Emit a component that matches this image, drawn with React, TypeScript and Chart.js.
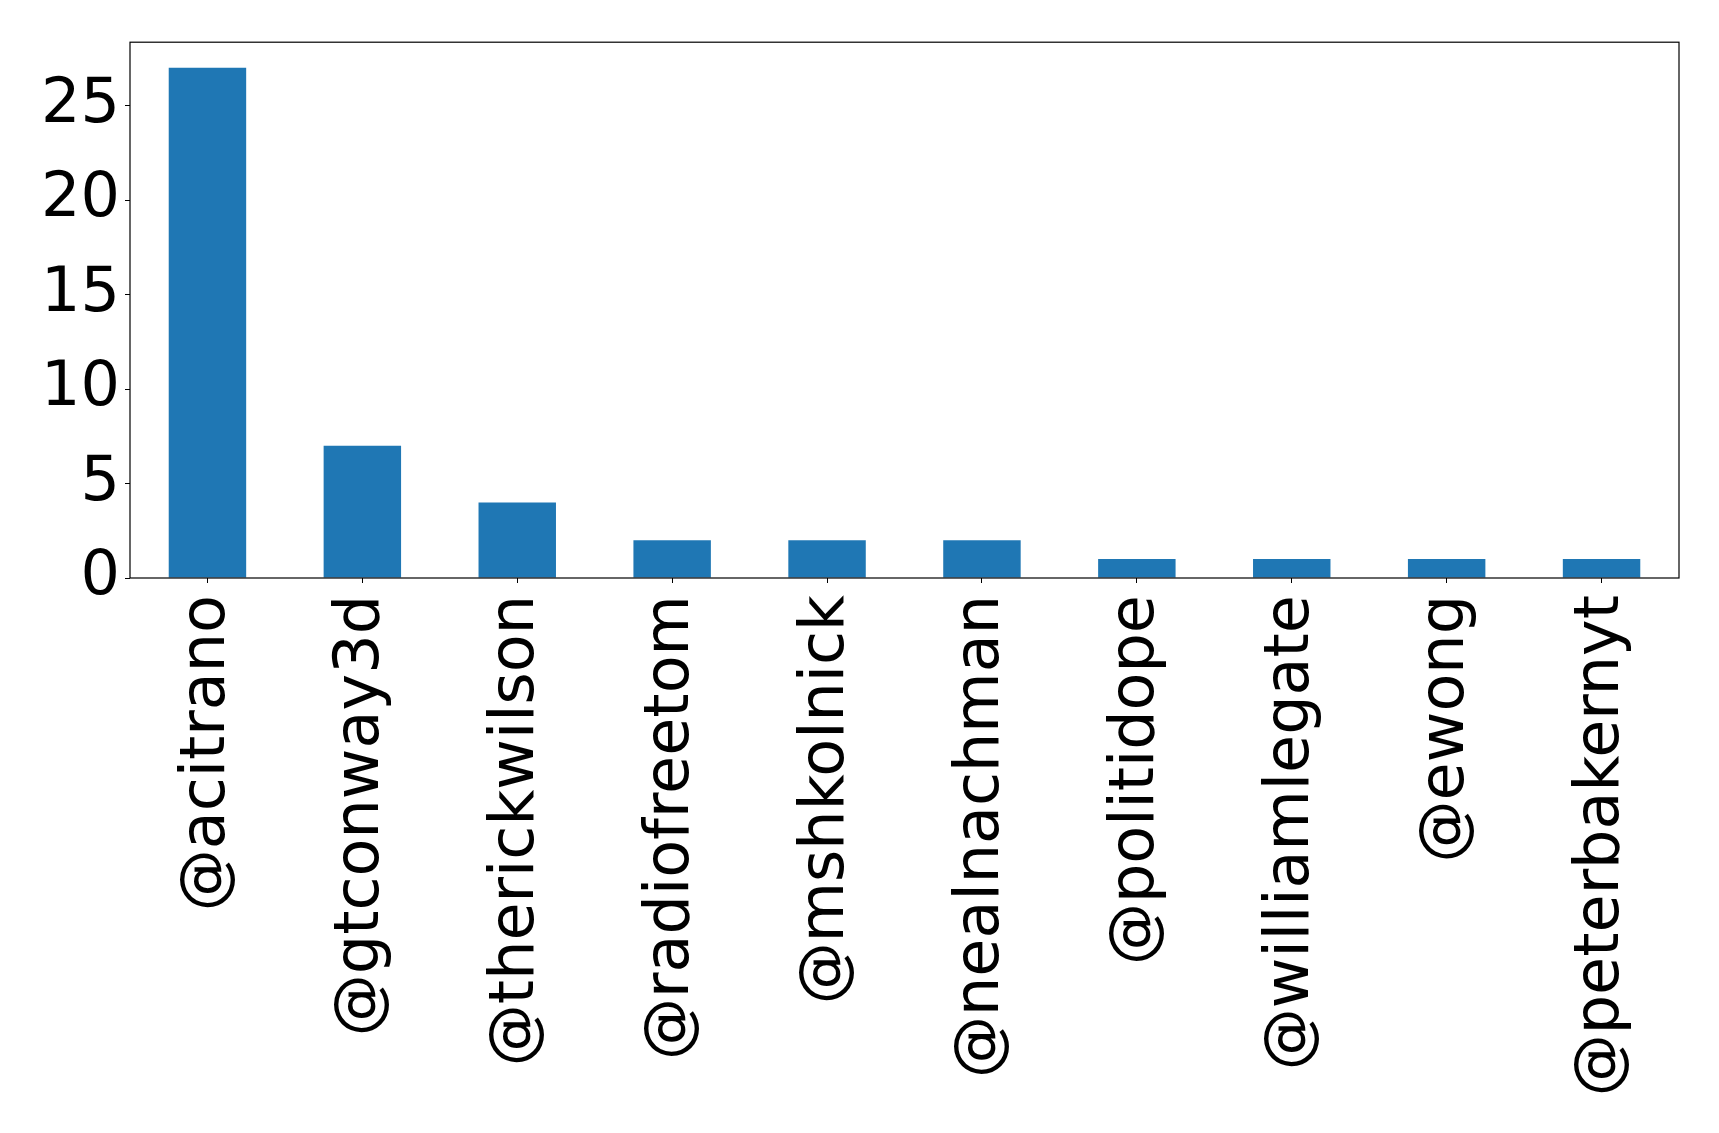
import { useEffect, useRef } from 'react'
import { Chart, registerables } from 'chart.js'

Chart.register(...registerables)

const HANDLES = [
  '@acitrano', '@gtconway3d', '@therickwilson', '@radiofreetom', '@mshkolnick',
  '@nealnachman', '@politidope', '@williamlegate', '@ewong', '@peterbakernyt',
]
const COUNTS = [27, 7, 4, 2, 2, 2, 1, 1, 1, 1]
const Y_MAX = 28.35

const FONT = { family: '"DejaVu Sans", sans-serif', size: 62 }

// matplotlib-style box round the plot area
const frame = {
  id: 'frame',
  afterDraw(chart: Chart) {
    const { ctx, chartArea: a } = chart
    ctx.save()
    ctx.strokeStyle = '#000'
    ctx.lineWidth = 1.2
    ctx.strokeRect(a.left, a.top, a.right - a.left, a.bottom - a.top)
    ctx.restore()
  },
}

export default function App() {
  const canvasRef = useRef<HTMLCanvasElement>(null)
  const chartRef = useRef<Chart | null>(null)

  useEffect(() => {
    document.body.style.margin = '0'
    if (!canvasRef.current) return
    if (chartRef.current) chartRef.current.destroy()

    chartRef.current = new Chart(canvasRef.current, {
      type: 'bar',
      data: {
        labels: HANDLES,
        datasets: [{
          data: COUNTS,
          backgroundColor: '#1f77b4',
          categoryPercentage: 1,
          barPercentage: 0.5,
        }],
      },
      options: {
        responsive: false,
        animation: false,
        devicePixelRatio: 1,
        layout: { padding: { top: 40, right: 40, left: 0, bottom: 0 } },
        scales: {
          x: {
            grid: { offset: false, drawOnChartArea: false, drawTicks: true, tickLength: 5, color: '#000' },
            border: { display: false },
            ticks: {
              autoSkip: false, minRotation: 90, maxRotation: 90,
              color: '#000', font: FONT, padding: 12,
            },
            afterFit: (s: any) => { s.height = 555 },
          },
          y: {
            min: 0, max: Y_MAX,
            grid: { drawOnChartArea: false, drawTicks: true, tickLength: 5, color: '#000' },
            border: { display: false },
            ticks: { stepSize: 5, includeBounds: false, color: '#000', font: FONT, padding: 5 },
            afterFit: (s: any) => { s.width = 130 },
          },
        },
        plugins: { legend: { display: false }, tooltip: { enabled: false } },
      },
      plugins: [frame],
    })

    return () => { chartRef.current?.destroy() }
  }, [])

  return (
    <div style={{ width: 1719, height: 1133, background: '#fff' }}>
      <canvas ref={canvasRef} width={1719} height={1133} />
    </div>
  )
}
